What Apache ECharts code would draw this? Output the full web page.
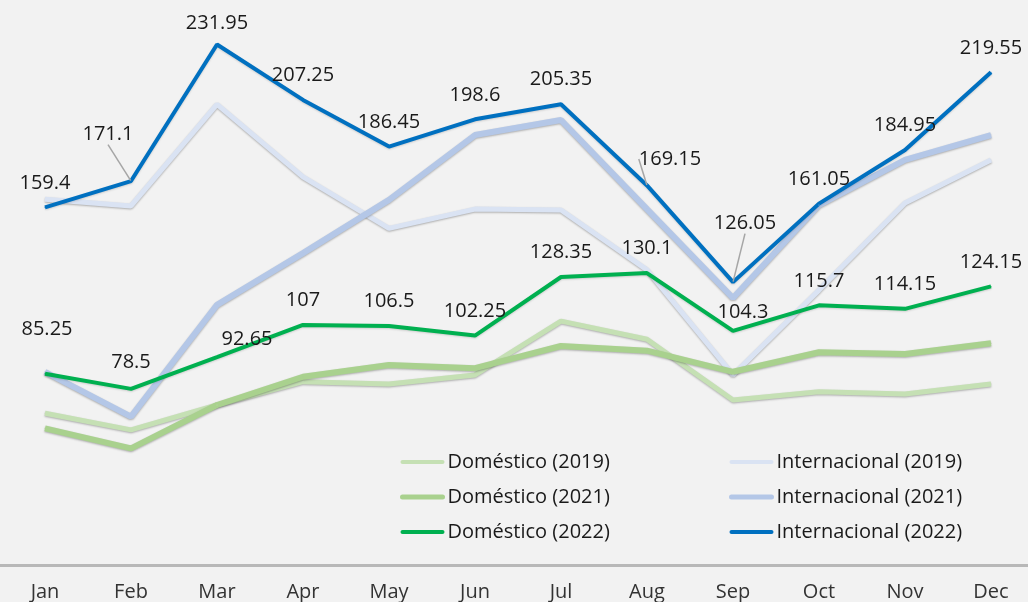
<!DOCTYPE html>
<html>
<head>
<meta charset="utf-8">
<script src="https://cdn.jsdelivr.net/npm/echarts@6/dist/echarts.min.js"></script>
<style>
  html, body { margin: 0; padding: 0; background: #f2f2f2; }
  #chart { width: 1028px; height: 602px; }
</style>
</head>
<body>
<div id="chart"></div>
<script>
// values
const months = ['Jan', 'Feb', 'Mar', 'Apr', 'May', 'Jun', 'Jul', 'Aug', 'Sep', 'Oct', 'Nov', 'Dec'];

const domestico2019 = [67.6, 60.2, 71.3, 81.7, 80.7, 84.7, 108.7, 100.6, 73.5, 77.2, 76.2, 80.7];
const domestico2021 = [60.9, 52.0, 71.3, 83.9, 89.1, 87.7, 97.6, 95.5, 86.1, 94.8, 94.0, 98.8];
const domestico2022 = [85.25, 78.5, 92.65, 107, 106.5, 102.25, 128.35, 130.1, 104.3, 115.7, 114.15, 124.15];

const internacional2019 = [163.0, 160.0, 205.3, 173.0, 150.0, 158.6, 158.2, 131.5, 84.7, 122.5, 161.3, 180.5];
const internacional2021 = [86.1, 66.1, 115.9, 139.0, 162.7, 191.6, 198.3, 158.6, 119.0, 160.4, 180.5, 191.6];
const internacional2022 = [159.4, 171.1, 231.95, 207.25, 186.45, 198.6, 205.35, 169.15, 126.05, 161.05, 184.95, 219.55];

const FONT = '"Open Sans", "Noto Sans", sans-serif';

// colour, line width, legend line width
const COLORS = {
  'Doméstico (2019)': ['#c5e0b4', 5, 4],
  'Doméstico (2021)': ['#a9d18e', 6, 5],
  'Doméstico (2022)': ['#00b050', 4, 4],
  'Internacional (2019)': ['#dae3f3', 5, 4],
  'Internacional (2021)': ['#b4c7e7', 6, 5],
  'Internacional (2022)': ['#0070c0', 4, 4]
};

/* label nudges, [dx, dy] by month index */
const intLabelShift = { 1: [-23, -22], 2: [0, 3], 7: [23, -2], 8: [12, -34] };
const domLabelShift = { 0: [2, -20], 1: [0, -2], 2: [30, 7], 8: [10, 6] };
const intLeader = [1, 7, 8];

function plain(name, values) {
  const color = COLORS[name][0];
  return {
    name: name,
    type: 'line',
    data: values,
    symbol: 'circle',
    symbolSize: 1,
    showSymbol: true,
    itemStyle: { color: color },
    lineStyle: {
      color: color, width: COLORS[name][1],
      shadowColor: 'rgba(0,0,0,0.28)', shadowBlur: 2, shadowOffsetY: 1
    },
    emphasis: { disabled: true },
    silent: true
  };
}

function labelled(name, values, shifts, leaders) {
  const s = plain(name, values.map(function (v, i) {
    return { value: v, labelLine: { show: leaders.indexOf(i) >= 0 } };
  }));
  s.lineStyle.shadowColor = 'rgba(0,0,0,0.15)';
  s.label = {
    show: true, position: 'top', distance: 14,
    fontFamily: FONT, fontSize: 20, color: '#1a1a1a'
  };
  s.labelLine = { show: false, lineStyle: { color: '#a6a6a6', width: 1.5 } };
  s.labelLayout = function (p) {
    const o = shifts[p.dataIndex];
    return o ? { dx: o[0], dy: o[1] } : {};
  };
  return s;
}

function legendItems(names) {
  return names.map(function (n) {
    return {
      name: n,
      lineStyle: { width: COLORS[n][2], color: COLORS[n][0], cap: 'round', shadowBlur: 0 },
      itemStyle: { color: COLORS[n][0], opacity: 0 }
    };
  });
}

function legendBlock(left, names) {
  return {
    orient: 'vertical', left: left, top: 451, padding: 0,
    itemWidth: 40, itemHeight: 6, itemGap: 13,
    selectedMode: false,
    textStyle: { fontFamily: FONT, fontSize: 20, color: '#1a1a1a', lineHeight: 22 },
    data: legendItems(names)
  };
}

const chart = echarts.init(document.getElementById('chart'), null, { renderer: 'canvas' });

chart.setOption({
  backgroundColor: '#f2f2f2',
  animation: false,
  grid: [
    { left: 45, right: 37, top: 4, bottom: 37 },
    // full-width grid only for the baseline
    { left: 0, right: 0, top: 4, bottom: 37 }
  ],
  xAxis: [{
    type: 'category',
    gridIndex: 0,
    data: months,
    boundaryGap: false,
    axisLine: { show: false },
    axisTick: { show: false },
    axisLabel: { fontFamily: FONT, fontSize: 20, color: '#333333', margin: 17 },
    z: 5
  }, {
    type: 'category',
    gridIndex: 1,
    data: months,
    axisLine: { lineStyle: { color: '#b8b8b8', width: 3 } },
    axisTick: { show: false },
    axisLabel: { show: false }
  }],
  yAxis: [
    { type: 'value', gridIndex: 0, min: 0, max: 250, show: false, splitLine: { show: false } },
    { type: 'value', gridIndex: 1, min: 0, max: 250, show: false, splitLine: { show: false } }
  ],
  legend: [
    legendBlock(400, ['Doméstico (2019)', 'Doméstico (2021)', 'Doméstico (2022)']),
    legendBlock(729, ['Internacional (2019)', 'Internacional (2021)', 'Internacional (2022)'])
  ],
  series: [
    plain('Doméstico (2019)', domestico2019),
    plain('Internacional (2019)', internacional2019),
    plain('Doméstico (2021)', domestico2021),
    plain('Internacional (2021)', internacional2021),
    labelled('Doméstico (2022)', domestico2022, domLabelShift, []),
    labelled('Internacional (2022)', internacional2022, intLabelShift, intLeader)
  ]
});
</script>
</body>
</html>
